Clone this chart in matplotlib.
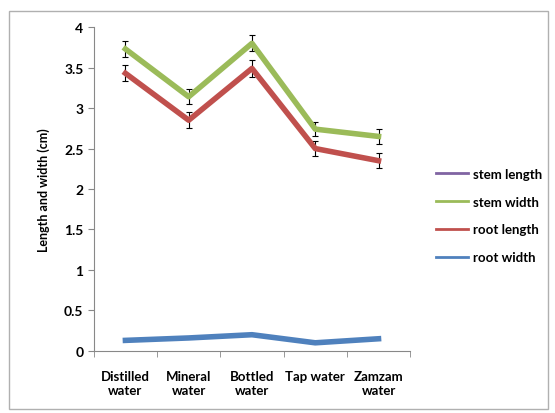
import matplotlib.pyplot as plt
import numpy as np
from matplotlib.patches import Rectangle

categories = ['Distilled\nwater', 'Mineral\nwater', 'Bottled\nwater', 'Tap water', 'Zamzam\nwater']
stem_width = [3.73, 3.14, 3.80, 2.74, 2.65]
stem_width_err = [0.10, 0.09, 0.10, 0.09, 0.09]
stem_length = [3.73, 3.14, 3.80, 2.74, 2.65]
root_length = [3.43, 2.85, 3.49, 2.50, 2.35]
root_length_err = [0.10, 0.10, 0.10, 0.09, 0.09]
root_width = [0.13, 0.16, 0.20, 0.10, 0.15]

plt.rcParams['font.family'] = ['Lato', 'DejaVu Sans']
plt.rcParams['font.weight'] = 'bold'

fig = plt.figure(figsize=(5.55, 4.14), dpi=100)
fig.patches.append(Rectangle((0.016, 0.01), 0.972, 0.962, transform=fig.transFigure,
                             fill=False, edgecolor='#b0b0b0', lw=1))
ax = fig.add_axes([0.169, 0.150, 0.570, 0.782])

x = np.arange(len(categories))
err_kw = dict(ecolor='black', elinewidth=0.8, capsize=2.5, capthick=0.8)
# stem length sits under the stem width line
l1, = ax.plot(x, stem_length, color='#8064A2', lw=2.5)
ax.errorbar(x, stem_width, yerr=stem_width_err, fmt='none', **err_kw)
l2, = ax.plot(x, stem_width, color='#9BBB59', lw=4)
ax.errorbar(x, root_length, yerr=root_length_err, fmt='none', **err_kw)
l3, = ax.plot(x, root_length, color='#C0504D', lw=4)
l4, = ax.plot(x, root_width, color='#4F81BD', lw=4)

ax.set_xlim(-0.5, len(categories) - 0.5)
ax.set_ylim(0, 4)
ax.set_yticks(np.arange(0, 4.01, 0.5))
ax.set_yticklabels(['0', '0.5', '1', '1.5', '2', '2.5', '3', '3.5', '4'])
ax.set_xticks(x)
ax.set_xticklabels(categories, fontsize=9.5, fontweight='bold')
ax.set_xticks(np.arange(-0.5, len(categories)), minor=True)
ax.tick_params(axis='x', which='major', length=0, pad=14)
ax.tick_params(axis='x', which='minor', length=4, color='#888888', direction='out')
ax.tick_params(axis='y', length=4, color='#888888', labelsize=10)
ax.set_ylabel('Length and width (cm)', fontsize=9, fontweight='bold', labelpad=10)
for s in ['top', 'right']:
    ax.spines[s].set_visible(False)
for s in ['left', 'bottom']:
    ax.spines[s].set_color('#888888')

fig.legend([l1, l2, l3, l4], ['stem length', 'stem width', 'root length', 'root width'],
           loc='center left', bbox_to_anchor=(0.765, 0.477), frameon=False,
           fontsize=9.5, handlelength=2.4, labelspacing=1.2, handletextpad=0.4)
for h in fig.legends[0].legend_handles:
    h.set_linewidth(2)

fig.savefig('out.png', dpi=100)
